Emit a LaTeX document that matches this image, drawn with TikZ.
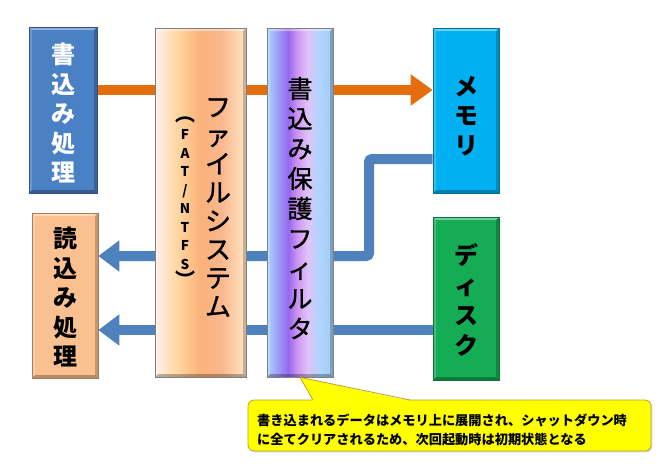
\documentclass[tikz,border=0pt]{standalone}
\usepackage{fontspec}
\setmainfont{Noto Sans CJK JP}
\newfontfamily\jpmed[FakeBold=1.2]{Noto Sans CJK JP}
\usetikzlibrary{arrows.meta,shadows,calc}
\definecolor{wrblue}{RGB}{74,128,196}
\definecolor{rdpeach}{RGB}{250,192,144}
\definecolor{memcyan}{RGB}{0,176,240}
\definecolor{dskgreen}{RGB}{20,172,84}
\definecolor{orangeln}{RGB}{228,110,14}
\definecolor{blueln}{RGB}{79,129,189}
\definecolor{cyellow}{RGB}{255,255,0}
\definecolor{cborder}{RGB}{190,160,40}
\definecolor{fsA}{RGB}{255,240,238}
\definecolor{fsB}{RGB}{255,218,165}
\definecolor{fsC}{RGB}{250,178,122}
\definecolor{fsD}{RGB}{250,182,140}
\definecolor{fsE}{RGB}{255,228,196}
\definecolor{flA}{RGB}{168,210,252}
\definecolor{flB}{RGB}{150,104,238}
\definecolor{flC}{RGB}{206,150,242}
\definecolor{flD}{RGB}{222,196,246}
\definecolor{flE}{RGB}{172,214,254}
\definecolor{flF}{RGB}{162,202,246}
% stops mapped into the middle half (25bp..75bp) that TikZ fits to the path
\pgfdeclarehorizontalshading{fsshade}{100bp}{color(0bp)=(fsA); color(25bp)=(fsA); color(36bp)=(fsB); color(50bp)=(fsC); color(61bp)=(fsD); color(75bp)=(fsE); color(100bp)=(fsE)}
\pgfdeclarehorizontalshading{flshade}{100bp}{color(0bp)=(flA); color(25bp)=(flA); color(41bp)=(flB); color(48bp)=(flC); color(56bp)=(flD); color(65bp)=(flE); color(75bp)=(flF); color(100bp)=(flF)}
\pgfdeclarelayer{back}
\pgfdeclarelayer{bg}
\pgfsetlayers{back,bg,main}
\tikzset{
  bevel/.style={path picture={
    \coordinate (bnw) at (path picture bounding box.north west);
    \coordinate (bne) at (path picture bounding box.north east);
    \coordinate (bsw) at (path picture bounding box.south west);
    \coordinate (bse) at (path picture bounding box.south east);
    \fill[white, opacity=0.4] (bnw) -- (bne) -- ($(bne)+(-3pt,-3pt)$) -- ($(bnw)+(3pt,-3pt)$) -- cycle;
    \fill[white, opacity=0.2] (bnw) -- ($(bnw)+(3pt,-3pt)$) -- ($(bsw)+(3pt,3pt)$) -- (bsw) -- cycle;
    \fill[black, opacity=0.22] (bne) -- (bse) -- ($(bse)+(-3pt,3pt)$) -- ($(bne)+(-3pt,-3pt)$) -- cycle;
    \fill[black, opacity=0.28] (bsw) -- (bse) -- ($(bse)+(-3pt,3pt)$) -- ($(bsw)+(3pt,3pt)$) -- cycle;
  }},
  blk/.style={draw=#1!65!black, fill=#1, line width=0.7pt, inner sep=0pt, bevel,
    drop shadow={shadow xshift=1.3pt,shadow yshift=-1.3pt,opacity=0.35}},
  shadedblk/.style={draw=black!50, shade, shading=#1, line width=0.7pt, inner sep=0pt, bevel,
    drop shadow={shadow xshift=1.3pt,shadow yshift=-1.3pt,opacity=0.35}},
  lbl/.style={align=center, inner sep=0pt},
  orangearrow/.style={draw=orangeln, line width=10pt, -{Triangle[length=22pt,width=30pt]}},
  bluearrow/.style={draw=blueln, line width=10pt, rounded corners=3pt, -{Triangle[length=21pt,width=30pt]}}
}
\begin{document}
\begin{tikzpicture}[x=1pt,y=-1pt]
\begin{pgfonlayer}{back}
\fill[white] (0,0) rectangle (669,474);
\end{pgfonlayer}
\useasboundingbox (0,0) rectangle (669,474);
% boxes
\node[blk=wrblue, minimum width=68pt, minimum height=166pt] (wr) at (63,110) {};
\node[lbl, text=white, font=\bfseries\fontsize{24}{29.5}\selectfont] (wrt) at (63,113) {書\\込\\み\\処\\理};
\node[blk=rdpeach, minimum width=66pt, minimum height=165pt] (rd) at (65,295.5) {};
\node[lbl, font=\bfseries\fontsize{24}{29.5}\selectfont] (rdt) at (65,297) {読\\込\\み\\処\\理};
\node[shadedblk=fsshade, minimum width=91pt, minimum height=349pt] (fs) at (200.5,202.5) {};
\node[lbl, font=\jpmed\fontsize{26}{28.5}\selectfont] (fst) at (218,207.5) {フ\\ァ\\イ\\ル\\シ\\ス\\テ\\ム};
\node[lbl, font=\bfseries\fontsize{13.5}{18.5}\selectfont] (fsp) at (185,202) {{\fontsize{20}{18.5}\selectfont ︵}\\F\\A\\T\\/\\N\\T\\F\\S\\{\fontsize{20}{18.5}\selectfont ︶}};
\node[shadedblk=flshade, minimum width=66pt, minimum height=349pt] (flt) at (300,202.5) {};
\node[lbl, font=\jpmed\fontsize{25}{30}\selectfont] (fltt) at (300,208) {書\\込\\み\\保\\護\\フ\\ィ\\ル\\タ};
\node[blk=memcyan, minimum width=66pt, minimum height=165pt] (mem) at (466,110.5) {};
\node[lbl, font=\bfseries\fontsize{24}{29.5}\selectfont] (memt) at (466,116) {メ\\モ\\リ};
\node[blk=dskgreen, minimum width=66pt, minimum height=163pt] (dsk) at (466,298.5) {};
\node[lbl, font=\bfseries\fontsize{24}{30}\selectfont] (dskt) at (466,300) {デ\\ィ\\ス\\ク};
% connectors behind the boxes
\begin{pgfonlayer}{bg}
\draw[orangearrow] (wr.east |- 0,90) -- (mem.west |- 0,90);
\draw[bluearrow] (mem.west |- 0,159) -- (369,159) -- (369,256) -- (rd.east |- 0,256);
\draw[bluearrow] (dsk.west |- 0,330) -- (rd.east |- 0,330);
\end{pgfonlayer}
% callout
\node[draw=cborder, fill=cyellow, line width=0.8pt, rounded corners=6pt, minimum width=403pt, minimum height=51pt,
  drop shadow={shadow xshift=1.3pt,shadow yshift=-1.3pt,opacity=0.3}] (co) at (449.5,425.5) {};
\fill[cyellow] (313,401) -- (flt.south) -- (410,401) -- cycle;
\draw[cborder, line width=0.8pt, line join=round] (313,400) -- (flt.south) -- (410,400);
\node[align=left, inner sep=0pt, anchor=west, font=\bfseries\fontsize{13.2}{19.5}\selectfont] (cot) at (257,430)
  {書き込まれるデータはメモリ上に展開され、シャットダウン時\\に全てクリアされるため、次回起動時は初期状態となる};
\end{tikzpicture}
\end{document}
